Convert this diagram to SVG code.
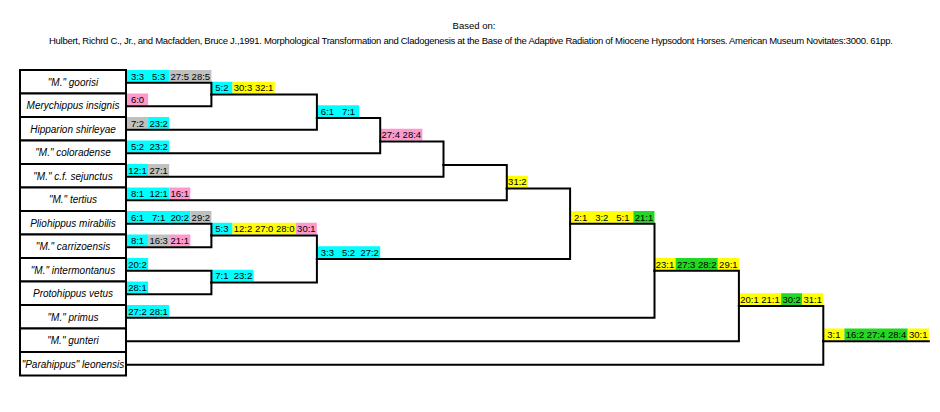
<svg xmlns="http://www.w3.org/2000/svg" width="940" height="412" viewBox="0 0 940 412">
<style>
.bg{fill:#ffffff}
.ttl{font-family:"Liberation Sans",Arial,sans-serif;font-size:9.5px;fill:#000;text-anchor:middle}
.box{fill:#ffffff;stroke:#000;stroke-width:2}
.nm{font-family:"Liberation Sans",Arial,sans-serif;font-size:10px;font-style:italic;fill:#000;text-anchor:middle}
.c{font-family:"Liberation Sans",Arial,sans-serif;font-size:9.5px;fill:#000;text-anchor:middle}
.cy{fill:#00FFFF}.gy{fill:#C0C0C0}.pk{fill:#FF99CC}.yl{fill:#FFFF00}.gr{fill:#22D822}
.ln{fill:none;stroke:#000;stroke-width:2;stroke-linecap:square;stroke-linejoin:miter}
</style>
<rect class="bg" x="0" y="0" width="940" height="412"/>
<g id="title">
<text class="ttl" x="474" y="29">Based on:</text>
<text class="ttl" x="471" y="44" textLength="844" lengthAdjust="spacing">Hulbert, Richrd C., Jr., and Macfadden, Bruce J.,1991. Morphological Transformation and Cladogenesis at the Base of the Adaptive Radiation of Miocene Hypsodont Horses. American Museum Novitates:3000. 61pp.</text>
</g>
<g id="taxon-goorisi">
<rect class="box" x="20" y="70" width="106" height="23.5"/>
<text class="nm" x="73" y="85.5">"M." goorisi</text>
<rect class="cy" x="127" y="70" width="42.2" height="11.75"/><rect class="gy" x="169.2" y="70" width="42.2" height="11.75"/>
<text class="c" x="137.55" y="79.5">3:3</text><text class="c" x="158.65" y="79.5">5:3</text><text class="c" x="179.75" y="79.5">27:5</text><text class="c" x="200.85" y="79.5">28:5</text>
</g>
<g id="taxon-merychippus">
<rect class="box" x="20" y="93.5" width="106" height="23.5"/>
<text class="nm" x="73" y="109">Merychippus insignis</text>
<rect class="pk" x="127" y="93.5" width="21.1" height="11.75"/>
<text class="c" x="137.55" y="103">6:0</text>
</g>
<g id="taxon-hipparion">
<rect class="box" x="20" y="117" width="106" height="23.5"/>
<text class="nm" x="73" y="132.5">Hipparion shirleyae</text>
<rect class="gy" x="127" y="117" width="21.1" height="11.75"/><rect class="cy" x="148.1" y="117" width="21.1" height="11.75"/>
<text class="c" x="137.55" y="126.5">7:2</text><text class="c" x="158.65" y="126.5">23:2</text>
</g>
<g id="taxon-coloradense">
<rect class="box" x="20" y="140.5" width="106" height="23.5"/>
<text class="nm" x="73" y="156">"M." coloradense</text>
<rect class="cy" x="127" y="140.5" width="42.2" height="11.75"/>
<text class="c" x="137.55" y="150">5:2</text><text class="c" x="158.65" y="150">23:2</text>
</g>
<g id="taxon-sejunctus">
<rect class="box" x="20" y="164" width="106" height="23.5"/>
<text class="nm" x="73" y="179.5">"M." c.f. sejunctus</text>
<rect class="cy" x="127" y="164" width="21.1" height="11.75"/><rect class="gy" x="148.1" y="164" width="21.1" height="11.75"/>
<text class="c" x="137.55" y="173.5">12:1</text><text class="c" x="158.65" y="173.5">27:1</text>
</g>
<g id="taxon-tertius">
<rect class="box" x="20" y="187.5" width="106" height="23.5"/>
<text class="nm" x="73" y="203">"M." tertius</text>
<rect class="cy" x="127" y="187.5" width="42.2" height="11.75"/><rect class="pk" x="169.2" y="187.5" width="21.1" height="11.75"/>
<text class="c" x="137.55" y="197">8:1</text><text class="c" x="158.65" y="197">12:1</text><text class="c" x="179.75" y="197">16:1</text>
</g>
<g id="taxon-pliohippus">
<rect class="box" x="20" y="211" width="106" height="23.5"/>
<text class="nm" x="73" y="226.5">Pliohippus mirabilis</text>
<rect class="cy" x="127" y="211" width="63.3" height="11.75"/><rect class="gy" x="190.3" y="211" width="21.1" height="11.75"/>
<text class="c" x="137.55" y="220.5">6:1</text><text class="c" x="158.65" y="220.5">7:1</text><text class="c" x="179.75" y="220.5">20:2</text><text class="c" x="200.85" y="220.5">29:2</text>
</g>
<g id="taxon-carrizoensis">
<rect class="box" x="20" y="234.5" width="106" height="23.5"/>
<text class="nm" x="73" y="250">"M." carrizoensis</text>
<rect class="cy" x="127" y="234.5" width="21.1" height="11.75"/><rect class="gy" x="148.1" y="234.5" width="21.1" height="11.75"/><rect class="pk" x="169.2" y="234.5" width="21.1" height="11.75"/>
<text class="c" x="137.55" y="244">8:1</text><text class="c" x="158.65" y="244">16:3</text><text class="c" x="179.75" y="244">21:1</text>
</g>
<g id="taxon-intermontanus">
<rect class="box" x="20" y="258" width="106" height="23.5"/>
<text class="nm" x="73" y="273.5">"M." intermontanus</text>
<rect class="cy" x="127" y="258" width="21.1" height="11.75"/>
<text class="c" x="137.55" y="267.5">20:2</text>
</g>
<g id="taxon-protohippus">
<rect class="box" x="20" y="281.5" width="106" height="23.5"/>
<text class="nm" x="73" y="297">Protohippus vetus</text>
<rect class="cy" x="127" y="281.5" width="21.1" height="11.75"/>
<text class="c" x="137.55" y="291">28:1</text>
</g>
<g id="taxon-primus">
<rect class="box" x="20" y="305" width="106" height="23.5"/>
<text class="nm" x="73" y="320.5">"M." primus</text>
<rect class="cy" x="127" y="305" width="42.2" height="11.75"/>
<text class="c" x="137.55" y="314.5">27:2</text><text class="c" x="158.65" y="314.5">28:1</text>
</g>
<g id="taxon-gunteri">
<rect class="box" x="20" y="328.5" width="106" height="23.5"/>
<text class="nm" x="73" y="344">"M." gunteri</text>
</g>
<g id="taxon-leonensis">
<rect class="box" x="20" y="352" width="106" height="23.5"/>
<text class="nm" x="73" y="367.5">"Parahippus" leonensis</text>
</g>
<g id="node-A">
<rect class="cy" x="211.4" y="81.75" width="21.1" height="11.75"/><rect class="yl" x="232.5" y="81.75" width="42.2" height="11.75"/>
<text class="c" x="221.95" y="91.25">5:2</text><text class="c" x="243.05" y="91.25">30:3</text><text class="c" x="264.15" y="91.25">32:1</text>
</g>
<g id="node-B">
<rect class="cy" x="316.9" y="105.25" width="42.2" height="11.75"/>
<text class="c" x="327.45" y="114.75">6:1</text><text class="c" x="348.55" y="114.75">7:1</text>
</g>
<g id="node-C">
<rect class="pk" x="380.2" y="128.75" width="42.2" height="11.75"/>
<text class="c" x="390.75" y="138.25">27:4</text><text class="c" x="411.85" y="138.25">28:4</text>
</g>
<g id="node-D"></g>
<g id="node-E">
<rect class="yl" x="506.8" y="175.75" width="21.1" height="11.75"/>
<text class="c" x="517.35" y="185.25">31:2</text>
</g>
<g id="node-G">
<rect class="cy" x="211.4" y="222.75" width="21.1" height="11.75"/><rect class="yl" x="232.5" y="222.75" width="63.3" height="11.75"/><rect class="pk" x="295.8" y="222.75" width="21.1" height="11.75"/>
<text class="c" x="221.95" y="232.25">5:3</text><text class="c" x="243.05" y="232.25">12:2</text><text class="c" x="264.15" y="232.25">27:0</text><text class="c" x="285.25" y="232.25">28:0</text><text class="c" x="306.35" y="232.25">30:1</text>
</g>
<g id="node-H">
<rect class="cy" x="211.4" y="269.75" width="42.2" height="11.75"/>
<text class="c" x="221.95" y="279.25">7:1</text><text class="c" x="243.05" y="279.25">23:2</text>
</g>
<g id="node-I">
<rect class="cy" x="316.9" y="246.25" width="63.3" height="11.75"/>
<text class="c" x="327.45" y="255.75">3:3</text><text class="c" x="348.55" y="255.75">5:2</text><text class="c" x="369.65" y="255.75">27:2</text>
</g>
<g id="node-F">
<rect class="yl" x="570.1" y="211" width="63.3" height="11.75"/><rect class="gr" x="633.4" y="211" width="21.1" height="11.75"/>
<text class="c" x="580.65" y="220.5">2:1</text><text class="c" x="601.75" y="220.5">3:2</text><text class="c" x="622.85" y="220.5">5:1</text><text class="c" x="643.95" y="220.5">21:1</text>
</g>
<g id="node-J">
<rect class="yl" x="654.5" y="258" width="21.1" height="11.75"/><rect class="gr" x="675.6" y="258" width="42.2" height="11.75"/><rect class="yl" x="717.8" y="258" width="21.1" height="11.75"/>
<text class="c" x="665.05" y="267.5">23:1</text><text class="c" x="686.15" y="267.5">27:3</text><text class="c" x="707.25" y="267.5">28:2</text><text class="c" x="728.35" y="267.5">29:1</text>
</g>
<g id="node-K">
<rect class="yl" x="738.9" y="293.25" width="42.2" height="11.75"/><rect class="gr" x="781.1" y="293.25" width="21.1" height="11.75"/><rect class="yl" x="802.2" y="293.25" width="21.1" height="11.75"/>
<text class="c" x="749.45" y="302.75">20:1</text><text class="c" x="770.55" y="302.75">21:1</text><text class="c" x="791.65" y="302.75">30:2</text><text class="c" x="812.75" y="302.75">31:1</text>
</g>
<g id="node-L">
<rect class="yl" x="823.3" y="328.5" width="21.1" height="11.75"/><rect class="gr" x="844.4" y="328.5" width="63.3" height="11.75"/><rect class="yl" x="907.7" y="328.5" width="21.1" height="11.75"/>
<text class="c" x="833.85" y="338">3:1</text><text class="c" x="854.95" y="338">16:2</text><text class="c" x="876.05" y="338">27:4</text><text class="c" x="897.15" y="338">28:4</text><text class="c" x="918.25" y="338">30:1</text>
</g>
<g id="connectors">
<path class="ln" d="M126 82.75H211.4V94.5"/>
<path class="ln" d="M126 106.25H211.4V94.5"/>
<path class="ln" d="M211.4 94.5H316.9V118"/>
<path class="ln" d="M126 129.75H316.9V118"/>
<path class="ln" d="M316.9 118H380.2V141.5"/>
<path class="ln" d="M126 153.25H380.2V141.5"/>
<path class="ln" d="M380.2 141.5H443.5V165"/>
<path class="ln" d="M126 176.75H443.5V165"/>
<path class="ln" d="M443.5 165H506.8V188.5"/>
<path class="ln" d="M126 200.25H506.8V188.5"/>
<path class="ln" d="M506.8 188.5H570.1V223.75"/>
<path class="ln" d="M126 223.75H211.4V235.5"/>
<path class="ln" d="M126 247.25H211.4V235.5"/>
<path class="ln" d="M211.4 235.5H316.9V259"/>
<path class="ln" d="M126 270.75H211.4V282.5"/>
<path class="ln" d="M126 294.25H211.4V282.5"/>
<path class="ln" d="M211.4 282.5H316.9V259"/>
<path class="ln" d="M316.9 259H570.1V223.75"/>
<path class="ln" d="M570.1 223.75H654.5V270.75"/>
<path class="ln" d="M126 317.75H654.5V270.75"/>
<path class="ln" d="M654.5 270.75H738.9V306"/>
<path class="ln" d="M126 341.25H738.9V306"/>
<path class="ln" d="M738.9 306H823.3V341.25"/>
<path class="ln" d="M126 364.75H823.3V341.25"/>
<path class="ln" d="M823.3 341.25H928.8"/>
</g>
</svg>
